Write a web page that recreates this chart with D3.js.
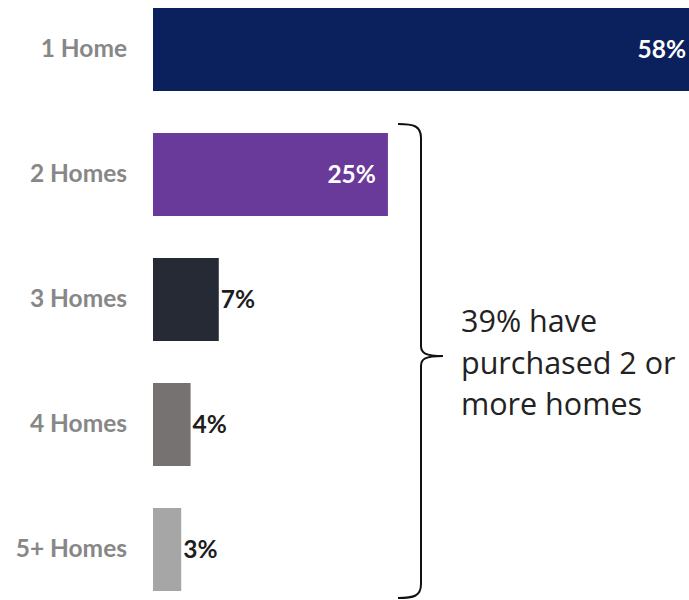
<!DOCTYPE html>
<html><head><meta charset="utf-8">
<script src="https://cdn.jsdelivr.net/npm/d3@7"></script>
<style>html,body{margin:0;padding:0;background:#fff;}svg{display:block;}</style>
</head><body>
<svg id="c" width="689" height="600"></svg>
<script>
const categories = ["1 Home", "2 Homes", "3 Homes", "4 Homes", "5+ Homes"];
const values = [58, 25, 7, 4, 3];
const colors = ["#0b215e", "#6a3a9b", "#252a35", "#767272", "#a6a6a6"];
const insideLabel = [true, true, false, false, false];
const annotationLines = ["39% have", "purchased 2 or", "more homes"];

const svg = d3.select("#c");
const x = d3.scaleLinear().domain([0, 58]).range([153, 698]);
const y = d3.scaleBand().domain(categories).range([8, 591]).paddingInner(0.336).paddingOuter(0);

const data = categories.map((c, i) => ({c, v: values[i], col: colors[i], inside: insideLabel[i]}));

svg.selectAll("rect.bar").data(data).join("rect").attr("class", "bar")
  .attr("x", x(0)).attr("y", d => y(d.c))
  .attr("width", d => x(d.v) - x(0)).attr("height", y.bandwidth())
  .attr("fill", d => d.col);

const axis = d3.axisLeft(y).tickSize(0).tickPadding(26);
const g = svg.append("g").attr("transform", `translate(${x(0)},0)`).call(axis);
g.select(".domain").remove();
g.selectAll("text").attr("fill", "#878787")
  .style("font-family", "Lato, 'Open Sans', sans-serif").style("font-weight", "bold").style("font-size", "24.5px");

svg.selectAll("text.val").data(data).join("text").attr("class", "val")
  .attr("x", d => d.inside ? x(d.v) - 12 : x(d.v) + 2)
  .attr("y", d => y(d.c) + y.bandwidth() / 2)
  .attr("dy", "0.35em")
  .attr("text-anchor", d => d.inside ? "end" : "start")
  .attr("fill", d => d.inside ? "#ffffff" : "#1e1e1e")
  .style("font-family", "Lato, 'Open Sans', sans-serif").style("font-weight", "bold").style("font-size", "24.5px")
  .text(d => d.v + "%");

// brace spanning 2+ homes
const bTop = y("2 Homes") - 9;
const bBot = y("5+ Homes") + y.bandwidth() + 7;
const bMid = (bTop + bBot) / 2 - 5;
const bx = 421, lx = 398, tx = 443;
const p = d3.path();
p.moveTo(lx, bTop);
p.bezierCurveTo(414, bTop, bx, bTop + 2, bx, bTop + 14);
p.lineTo(bx, bMid - 10);
p.bezierCurveTo(bx, bMid - 3, 425, bMid, tx, bMid);
p.moveTo(tx, bMid);
p.bezierCurveTo(425, bMid, bx, bMid + 3, bx, bMid + 10);
p.lineTo(bx, bBot - 14);
p.bezierCurveTo(bx, bBot - 2, 414, bBot, lx, bBot);
svg.append("path").attr("d", p.toString()).attr("fill", "none").attr("stroke", "#111").attr("stroke-width", 2);

const t = svg.append("text").attr("x", 461).attr("y", 332)
  .attr("fill", "#222").style("font-family", "'Open Sans', sans-serif").style("font-size", "30.5px");
t.selectAll("tspan").data(annotationLines).join("tspan")
  .attr("x", 461).attr("dy", (d, i) => i === 0 ? 0 : 41.5).text(d => d);
</script>
</body></html>
